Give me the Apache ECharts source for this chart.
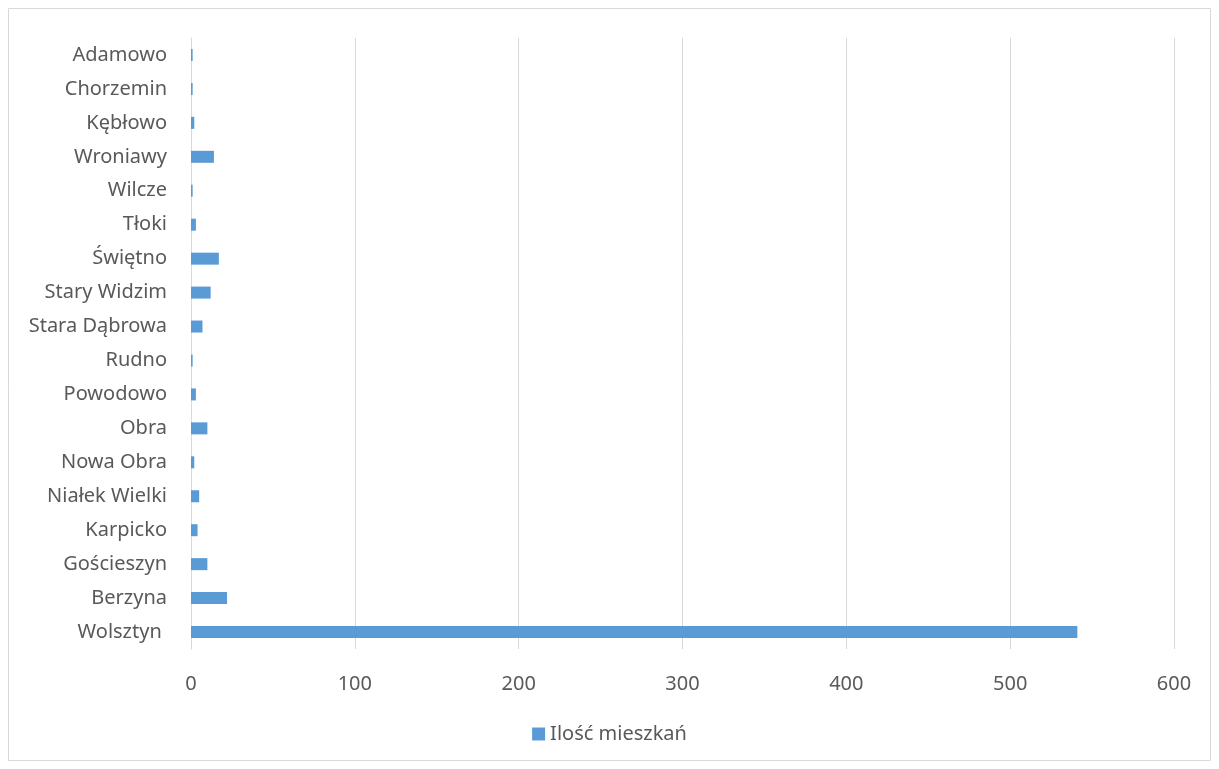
<!DOCTYPE html>
<html><head><meta charset="utf-8">
<script src="https://cdn.jsdelivr.net/npm/echarts@6/dist/echarts.min.js"></script>
<style>html,body{margin:0;padding:0;background:#fff}#c{width:1219px;height:769px}</style>
</head><body><div id="c"></div>
<script>
const categories = ['Wolsztyn ','Berzyna','Gościeszyn','Karpicko','Niałek Wielki','Nowa Obra','Obra','Powodowo','Rudno','Stara Dąbrowa','Stary Widzim','Świętno','Tłoki','Wilcze','Wroniawy','Kębłowo','Chorzemin','Adamowo'];
const values = [541,22,10,4,5,2,10,3,1,7,12,17,3,1,14,2,1,1];
const seriesName = 'Ilość mieszkań';
const xTicks = [0,100,200,300,400,500,600];

const chart = echarts.init(document.getElementById('c'));
const font = '"Noto Sans", "Open Sans", sans-serif';
chart.setOption({
  animation:false,
  textStyle:{fontFamily:font},
  graphic:[{type:'rect',shape:{x:8.5,y:8.5,width:1202,height:752},style:{fill:'none',stroke:'#d9d9d9',lineWidth:1},silent:true}],
  grid:{left:191,right:45,top:38,bottom:120,containLabel:false},
  legend:{bottom:20,left:'center',itemWidth:13,itemHeight:13,icon:'rect',itemGap:6,
    textStyle:{color:'#595959',fontSize:20,fontFamily:font},data:[seriesName]},
  xAxis:{type:'value',min:xTicks[0],max:xTicks[xTicks.length-1],interval:100,
    axisLine:{show:false},axisTick:{show:false},
    axisLabel:{color:'#595959',fontSize:20,margin:25,fontFamily:font},
    splitLine:{lineStyle:{color:'#d9d9d9',width:1}}},
  yAxis:{type:'category',data:categories,
    axisLine:{show:true,lineStyle:{color:'#d9d9d9',width:1}},axisTick:{show:false},
    axisLabel:{color:'#595959',fontSize:20,margin:24,fontFamily:font}},
  series:[{name:seriesName,type:'bar',data:values,barWidth:12,itemStyle:{color:'#5b9bd5'}}]
});
</script></body></html>
